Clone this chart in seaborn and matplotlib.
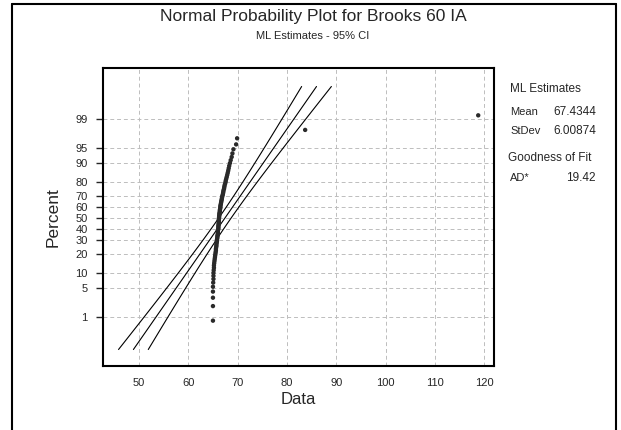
import matplotlib
matplotlib.use("Agg")
import matplotlib.pyplot as plt
import seaborn as sns
import numpy as np
import pandas as pd
from statistics import NormalDist
from matplotlib.lines import Line2D

data_values = [
    65.0, 65.0, 65.0, 65.0, 65.0, 65.05, 65.1, 65.1, 65.1, 65.15,
    65.2, 65.2, 65.25, 65.3, 65.35, 65.4, 65.45, 65.5, 65.55, 65.6,
    65.6, 65.65, 65.7, 65.7, 65.75, 65.8, 65.8, 65.85, 65.9, 65.9,
    65.95, 66.0, 66.0, 66.0, 66.05, 66.1, 66.1, 66.1, 66.15, 66.15,
    66.2, 66.2, 66.2, 66.2, 66.25, 66.25, 66.3, 66.3, 66.35, 66.4,
    66.4, 66.45, 66.5, 66.5, 66.55, 66.6, 66.65, 66.7, 66.75, 66.8,
    66.85, 66.9, 67.0, 67.05, 67.1, 67.15, 67.25, 67.3, 67.35, 67.45,
    67.55, 67.6, 67.7, 67.8, 67.9, 68.0, 68.1, 68.2, 68.3, 68.45,
    68.6, 68.8, 68.95, 69.15, 69.7, 69.9, 83.7, 118.8,
]
percent_ticks = [1, 5, 10, 20, 30, 40, 50, 60, 70, 80, 90, 95, 99]
x_ticks = [50, 60, 70, 80, 90, 100, 110, 120]
ml_mean = 67.4344
ml_stdev = 6.00874
ad_star = 19.42
ci_level = 0.95

title = "Normal Probability Plot for Brooks 60 IA"
subtitle = "ML Estimates - 95% CI"

sns.set_style("white")
plt.rcParams['font.family'] = ['Liberation Sans', 'DejaVu Sans']

nd = NormalDist()
n = len(data_values)
xs = np.sort(np.array(data_values))
ranks = np.arange(1, n + 1)
pos = (ranks - 0.3) / (n + 0.4)
zpos = np.array([nd.inv_cdf(p) for p in pos])
pts = pd.DataFrame({"Data": xs, "z": zpos})

# fitted line and confidence bounds from the ML estimates
zline = np.linspace(nd.inv_cdf(0.001), nd.inv_cdf(0.999), 60)
zc = nd.inv_cdf(0.5 + ci_level / 2)
mid = ml_mean + zline * ml_stdev
half = zc * ml_stdev * np.sqrt((1 + zline ** 2 / 2) / n)
lines = pd.DataFrame({
    "Data": np.concatenate([mid - half, mid, mid + half]),
    "z": np.concatenate([zline, zline, zline]),
    "band": np.repeat(["lower", "fit", "upper"], len(zline)),
})

fig = plt.figure(figsize=(6.21, 4.30), dpi=100)
ax = fig.add_axes([103 / 621, 1 - 366 / 430, 391 / 621, 298 / 430])

for b in ["lower", "fit", "upper"]:
    sns.lineplot(data=lines[lines.band == b], x="Data", y="z", color="black",
                 lw=0.8, sort=False, estimator=None, ax=ax, zorder=2)
sns.scatterplot(data=pts, x="Data", y="z", color="#2a2a2a", s=10, marker="o",
                edgecolor="none", ax=ax, zorder=3)

ax.set_xlim(42.7, 122.0)
ax.set_ylim(-3.478, 3.525)
ax.set_xticks(x_ticks)
ax.set_xticklabels([str(t) for t in x_ticks])
ax.set_yticks([nd.inv_cdf(p / 100) for p in percent_ticks])
ax.set_yticklabels([str(p) for p in percent_ticks])
ax.grid(True, ls=(0, (4, 3)), color="#bdbdbd", lw=0.7)
ax.set_axisbelow(True)
for s in ax.spines.values():
    s.set_visible(True)
    s.set_linewidth(1.5)
    s.set_color("black")
ax.tick_params(axis="y", length=5, width=1, pad=6, labelsize=8, left=True)
ax.tick_params(axis="x", length=0, pad=9, labelsize=8)

ax.set_xlabel("Data", fontsize=12)
ax.xaxis.set_label_coords((298 - 103) / 391, -(400 - 366) / 298)
ax.xaxis.label.set_va("center")
ax.set_ylabel("Percent", fontsize=12.5)
ax.yaxis.set_label_coords((53 - 103) / 391, (366 - 217) / 298)
ax.yaxis.label.set_va("center")

fig.text(313 / 621, 1 - 16 / 430, title, ha="center", va="center", fontsize=12.5)
fig.text(313 / 621, 1 - 36 / 430, subtitle, ha="center", va="center", fontsize=8)

lx, rx = 510 / 621, 596 / 621
fs = 8.5
fig.text(lx, 1 - 89 / 430, "ML Estimates", fontsize=fs, va="center")
fig.text(lx, 1 - 112 / 430, "Mean", fontsize=8, va="center")
fig.text(rx, 1 - 112 / 430, f"{ml_mean:.4f}", fontsize=fs, va="center", ha="right")
fig.text(lx, 1 - 131 / 430, "StDev", fontsize=8, va="center")
fig.text(rx, 1 - 131 / 430, f"{ml_stdev:.5f}", fontsize=fs, va="center", ha="right")
fig.text(508 / 621, 1 - 158 / 430, "Goodness of Fit", fontsize=fs, va="center")
fig.text(lx, 1 - 178 / 430, "AD*", fontsize=8, va="center")
fig.text(rx, 1 - 178 / 430, f"{ad_star:.2f}", fontsize=fs, va="center", ha="right")

# outer frame (left, top, right)
fl, fr, ft = 11.5 / 621, 615.5 / 621, 1 - 3.5 / 430
for xd, yd in [([fl, fl], [0, ft]), ([fl, fr], [ft, ft]), ([fr, fr], [ft, 0])]:
    fig.add_artist(Line2D(xd, yd, transform=fig.transFigure, color="black", lw=1.5))

fig.savefig("out.png", dpi=100)
